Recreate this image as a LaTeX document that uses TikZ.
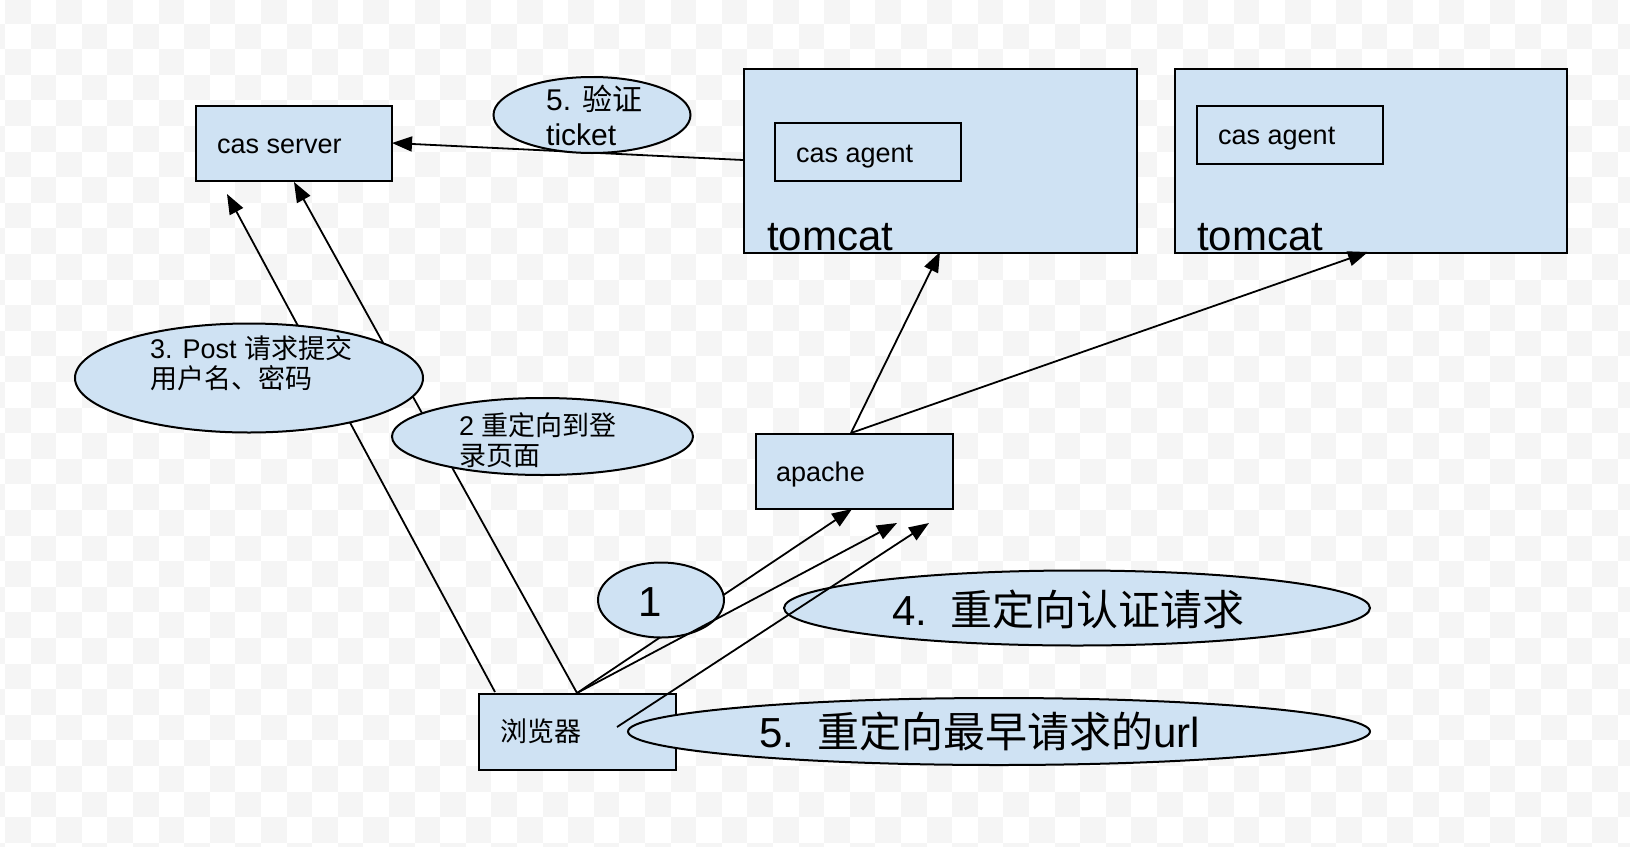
\documentclass[tikz,border=0pt]{standalone}
\usepackage{fontspec}
\setmainfont{Liberation Sans}
\newfontfamily\cjk{Noto Sans CJK SC}
\usetikzlibrary{arrows.meta,shapes.geometric}
\definecolor{lb}{HTML}{CFE2F3}
\definecolor{chk}{HTML}{F5F5F5}
\begin{document}
\begin{tikzpicture}[x=1pt,y=-1pt,
  box/.style={draw=black, line width=2pt, fill=lb, rectangle, inner sep=0pt, anchor=north west},
  bubble/.style={draw=black, line width=2pt, fill=lb, ellipse, inner sep=0pt},
  conn/.style={line width=1.8pt, -{Triangle[length=20pt,width=15pt]}},
  txta/.style={inner sep=0pt, anchor=base west, font=\fontsize{27}{30}\selectfont},
  txtb/.style={inner sep=0pt, anchor=base west, font=\fontsize{30}{35}\selectfont},
  txtc/.style={inner sep=0pt, anchor=base west, font=\fontsize{42}{48}\selectfont}]
\useasboundingbox (0,0) rectangle (1630,846);
% background checkerboard
\begin{scope}
\clip (0,0) rectangle (1630,846);
\fill[white] (0,0) rectangle (1630,846);
\foreach \j in {0,...,33}{\foreach \i in {-1,...,63}{%
  \ifodd\numexpr\i+\j+1\relax \fill[chk] ({5+\i*25.6},{-2+\j*25.6}) rectangle ++(25.6,25.6);\fi}}
\end{scope}
% boxes
\node[box, minimum width=196pt, minimum height=75pt] (cas) at (195,105) {};
\node[box, minimum width=393pt, minimum height=184pt] (tom1) at (743,68) {};
\node[box, minimum width=186pt, minimum height=58pt] (ag1) at (774,122) {};
\node[box, minimum width=392pt, minimum height=184pt] (tom2) at (1174,68) {};
\node[box, minimum width=186pt, minimum height=58pt] (ag2) at (1196,105) {};
\node[box, minimum width=197pt, minimum height=75pt] (ap) at (755,433) {};
\node[box, minimum width=197pt, minimum height=76pt] (br) at (478,693) {};
% connector end points
\coordinate (a0) at (495,692); \coordinate (a1) at (227,194);
\coordinate (b0) at (577,693); \coordinate (b1) at (294,182);
\coordinate (c1) at (852,509);
\coordinate (d1) at (897,523);
\coordinate (e0) at (617,727); \coordinate (e1) at (929,523);
\coordinate (f0) at (851,433); \coordinate (f1) at (940,252);
\coordinate (g1) at (1368,252);
\coordinate (h0) at (743,160); \coordinate (h1) at (392,143);
% connectors behind the bubbles
\draw[conn] (a0) -- (a1);
\draw[conn] (b0) -- (b1);
\draw[conn] (b0) -- (c1);
\draw[conn] (f0) -- (f1);
\draw[conn] (f0) -- (g1);
\draw[conn] (h0) -- (h1);
% bubbles
\node[bubble, minimum width=197pt, minimum height=76pt] (eTk) at (592,115) {};
\node[bubble, minimum width=348pt, minimum height=109pt] (ePost) at (249,378) {};
\node[bubble, minimum width=301pt, minimum height=77pt] (eLogin) at (542.5,436.5) {};
\node[bubble, minimum width=126pt, minimum height=75pt] (eOne) at (661,600) {};
\node[bubble, minimum width=586pt, minimum height=75pt] (eAuth) at (1077,608) {};
\node[bubble, minimum width=742pt, minimum height=67pt] (eUrl) at (999,731.5) {};
% connectors over the bubbles
\draw[conn] (b0) -- (d1);
\draw[conn] (e0) -- (e1);
% texts
\node[txta] (tCas) at (217,153) {cas server};
\node[txta] (tAg1) at (796,162) {cas agent};
\node[txta] (tAg2) at (1218,144) {cas agent};
\node[txtc] (tTom1) at (767,250) {tomcat};
\node[txtc] (tTom2) at (1197,250) {tomcat};
\node[txta] (tAp) at (776,481) {apache};
\node[txta] (tBr) at (500,741) {\cjk 浏览器};
\node[txtb, align=left] (tTk) at (546,145) {5. {\cjk 验证}\\ticket};
\node[txta, align=left] (tPost) at (150,388) {3. Post {\cjk 请求提交}\\{\cjk 用户名、密码}};
\node[txta, align=left] (tLogin) at (459,465) {2 {\cjk 重定向到登}\\{\cjk 录页面}};
\node[txtc] (tOne) at (638,616) {1};
\node[txtc] (tAuth) at (892,625) {4.\ \ {\cjk 重定向认证请求}};
\node[txtc] (tUrl) at (759,747) {5.\ \ {\cjk 重定向最早请求的}url};
\end{tikzpicture}
\end{document}
